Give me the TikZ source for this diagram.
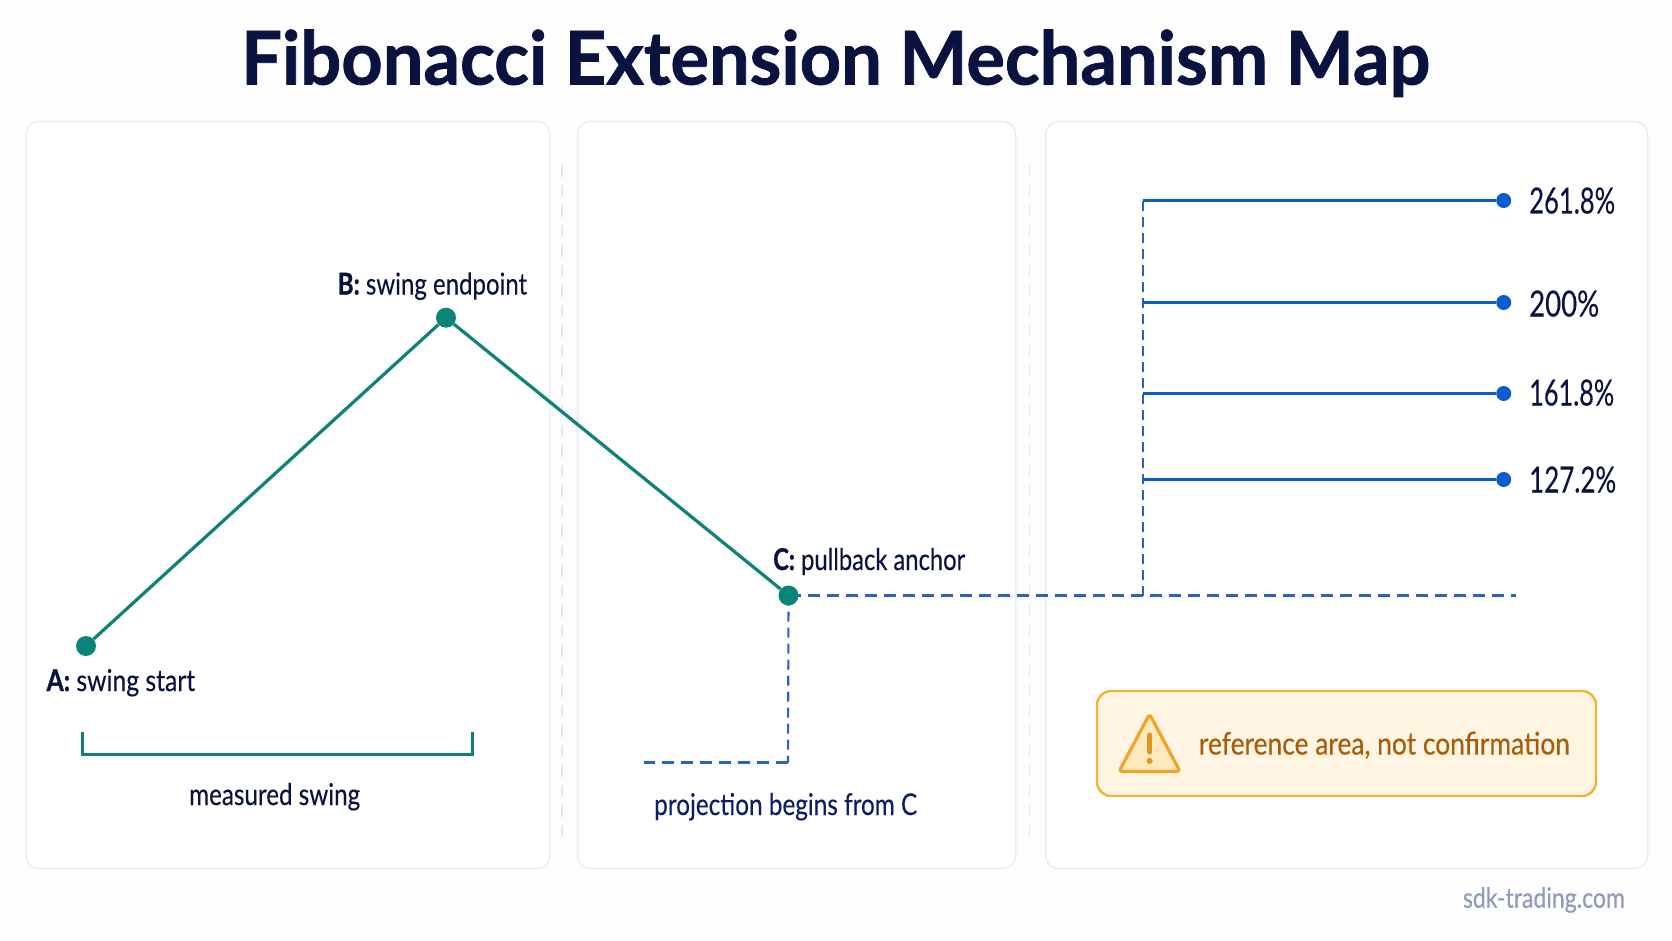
\documentclass[tikz,border=0pt]{standalone}
\usepackage{graphicx}
\usepackage{fontspec}
\setmainfont{Lato}[FakeBold=0.3,BoldFeatures={FakeBold=1.1}]
\usetikzlibrary{calc}
\definecolor{bgc}{HTML}{FDFDFE}
\definecolor{panelline}{HTML}{E6EBF4}
\definecolor{sepline}{HTML}{E3E7EE}
\definecolor{tealc}{HTML}{0F8277}
\definecolor{dotteal}{HTML}{0B8478}
\definecolor{bluec}{HTML}{0A5CCF}
\definecolor{dashblue}{HTML}{2A62C4}
\definecolor{inkc}{HTML}{0A1240}
\definecolor{projc}{HTML}{0C1F66}
\definecolor{warnfill}{HTML}{FFF5E2}
\definecolor{warnline}{HTML}{F5B135}
\definecolor{warntext}{HTML}{A85C0A}
\definecolor{iconline}{HTML}{EFA32A}
\definecolor{iconfill}{HTML}{FEE9BE}
\definecolor{iconmark}{HTML}{E2941E}
\definecolor{markc}{HTML}{8E9BBA}
% width-fitted text: keeps the height of the font, sets the width in picture units
\newcommand{\fitw}[2]{\setbox0=\hbox{#2}\pgfmathsetmacro{\fitr}{#1/\wd0}\scalebox{\fitr}[1]{\box0}}
\tikzset{
  panel/.style={draw=panelline,line width=1.3pt,fill=white,rounded corners=13pt},
  sepdash/.style={draw=sepline,line width=1.5pt,dash pattern=on 12pt off 8pt},
  swing/.style={draw=tealc,line width=3.2pt},
  tealdot/.style={circle,fill=dotteal,inner sep=0pt,minimum size=20pt},
  leveldot/.style={circle,fill=bluec,inner sep=0pt,minimum size=15pt},
  levelline/.style={draw=bluec,line width=3pt},
  projdash/.style={draw=dashblue,line width=3pt,dash pattern=on 12pt off 7pt},
  vdash/.style={draw=dashblue,line width=2.1pt,dash pattern=on 10pt off 6pt},
  txt/.style={inner sep=0pt,anchor=base west,text=inkc,font=\fontsize{30}{34}\selectfont},
  lvl/.style={inner sep=0pt,anchor=base west,text=inkc,font=\fontsize{36}{40}\selectfont},
}
\begin{document}
\begin{tikzpicture}[x=1pt,y=-1pt]
\useasboundingbox (0,0) rectangle (1672,941);
\fill[bgc] (0,0) rectangle (1672,941);
% title
\node[inner sep=0pt,anchor=base west,text=inkc,font=\fontsize{74}{80}\selectfont\bfseries] (title) at (241,84.5) {\fitw{1189}{Fibonacci Extension Mechanism Map}};
% panels
\draw[panel] (26,121.5) rectangle (550,868.5);
\draw[panel] (577.6,121.5) rectangle (1015.7,868.5);
\draw[panel] (1045.6,121.5) rectangle (1647.7,868.5);
\draw[sepdash] (562,165) -- (562,840);
\draw[sepdash] (1029.6,165) -- (1029.6,840);
% swing
\coordinate (Cright) at (1516,595.5);
\coordinate (Cdown) at (788,762.7);
\coordinate (Cleft) at (644,762.7);
\coordinate (Vjoin) at (1143,595.5);
\coordinate (L1) at (1143,200.5);
\coordinate (L2) at (1143,302.5);
\coordinate (L3) at (1143,393.5);
\coordinate (L4) at (1143,479.5);
\coordinate (C0) at (788.5,595.5);
\draw[projdash] (C0) -- (Cright);
\draw[vdash] (C0) -- (Cdown);
\draw[projdash] (Cdown) -- (Cleft);
\draw[vdash] (Vjoin) -- (L1);
\node[tealdot] (A) at (86,646) {};
\node[tealdot] (B) at (446,317.7) {};
\node[tealdot] (C) at (C0) {};
\draw[swing] (A) -- (B);
\draw[swing] (B) -- (C);
\node[txt] (Alab) at (46.4,691) {\fitw{148.6}{\textbf{A:} swing start}};
\node[txt] (Blab) at (337.6,294.5) {\fitw{189.4}{\textbf{B:} swing endpoint}};
\node[txt] (Clab) at (773,570) {\fitw{192}{\textbf{C:} pullback anchor}};
% bracket
\coordinate (BrA) at (82.7,732);
\coordinate (BrB) at (82.7,754.7);
\coordinate (BrC) at (472.5,754.7);
\coordinate (BrD) at (472.5,732);
\draw[draw=tealc,line width=2.8pt] (BrA) -- (BrB) -- (BrC) -- (BrD);
\node[txt] (mlab) at (189,805) {\fitw{171}{measured swing}};
\node[txt,text=projc] (plab) at (654,815) {\fitw{263}{projection begins from C}};
% levels
\node[leveldot] (D1) at (1503.7,200.5) {};
\node[leveldot] (D2) at (1503.7,302.5) {};
\node[leveldot] (D3) at (1503.7,393.5) {};
\node[leveldot] (D4) at (1503.7,479.5) {};
\draw[levelline] (L1) -- (D1);
\draw[levelline] (L2) -- (D2);
\draw[levelline] (L3) -- (D3);
\draw[levelline] (L4) -- (D4);
\node[lvl] (T1) at (1529,213.5) {\fitw{86}{261.8\%}};
\node[lvl] (T2) at (1529,316.5) {\fitw{70}{200\%}};
\node[lvl] (T3) at (1529,405.5) {\fitw{85}{161.8\%}};
\node[lvl] (T4) at (1529,492.5) {\fitw{87}{127.2\%}};
% warning
\draw[draw=warnline,line width=2.4pt,fill=warnfill,rounded corners=14pt] (1097,691) rectangle (1596,796);
\draw[draw=iconline,fill=iconfill,line width=3.2pt,line join=round,rounded corners=3pt] (1149.6,714) -- (1180,771.5) -- (1119,771.5) -- cycle;
\draw[draw=iconmark,line width=5pt,line cap=round] (1149.6,735) -- (1149.6,752);
\fill[iconmark] (1149.6,761) circle (3pt);
\node[inner sep=0pt,anchor=base west,text=warntext,font=\fontsize{31}{35}\selectfont] (warn) at (1198.7,754.5) {\fitw{371}{reference area, not confirmation}};
\node[inner sep=0pt,anchor=base west,text=markc,font=\fontsize{28}{32}\selectfont] (mark) at (1462.7,907.7) {\fitw{162}{sdk-trading.com}};
\end{tikzpicture}
\end{document}
